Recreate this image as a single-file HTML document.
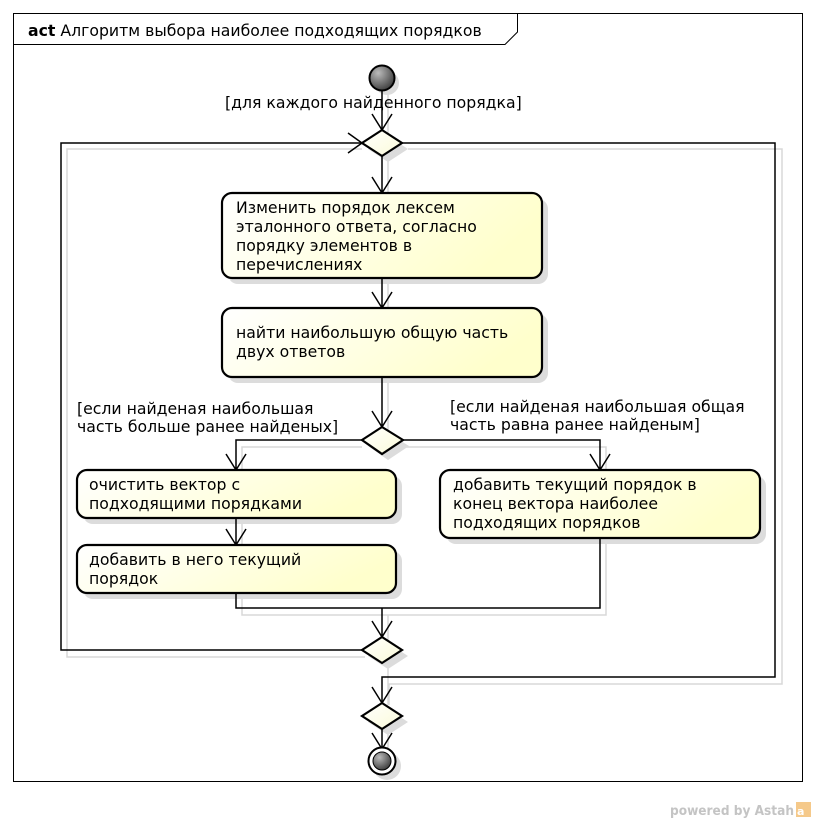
<!DOCTYPE html>
<html><head><meta charset="utf-8"><style>
html,body{margin:0;padding:0;background:#fff}
svg text{font-family:"DejaVu Sans","Liberation Sans",sans-serif;font-size:15.7px;fill:#000}
</style></head><body>
<svg width="816" height="822" viewBox="0 0 816 822" xmlns="http://www.w3.org/2000/svg">
<defs>
<linearGradient id="bx" x1="0" y1="0" x2="1" y2="0.3">
<stop offset="0" stop-color="#ffffff"/><stop offset="1" stop-color="#ffffcc"/></linearGradient>
<linearGradient id="dm" x1="0" y1="0" x2="1" y2="1">
<stop offset="0" stop-color="#ffffff"/><stop offset="1" stop-color="#fbfbd8"/></linearGradient>
<radialGradient id="ball" cx="0.35" cy="0.3" r="0.8">
<stop offset="0" stop-color="#bbbbbb"/><stop offset="1" stop-color="#333333"/></radialGradient>
</defs>
<rect x="13.5" y="13.5" width="789" height="768" fill="none" stroke="#000" stroke-width="1"/>
<path d="M13.5 44.5 H505 L517.5 32 V13.5" fill="none" stroke="#000"/>
<text x="28" y="36"><tspan font-weight="bold">act</tspan> Алгоритм выбора наиболее подходящих порядков</text>

<g stroke="#d8d8d8" fill="none" stroke-width="1.5">
<path d="M388 90 V136"/>
<path d="M408 149 H782 V684 H389 V705"/>
<path d="M362 149 H67 V657 H365"/>
<path d="M388 160 V196 M388 283 V311 M388 383 V430"/>
<path d="M403 447 H606 V473 M362 447 H242 V473"/>
<path d="M242 523 V548 M242 598 V615 H606 V543"/>
<path d="M388 615 V640"/>
<path d="M388 668 V705 M388 733 V748"/>
</g>
<g fill="#dcdcdc">
<rect x="228" y="199" width="320" height="85" rx="10"/>
<rect x="228" y="314" width="320" height="69" rx="10"/>
<rect x="83" y="476" width="319" height="48" rx="10"/>
<rect x="83" y="551" width="319" height="48" rx="10"/>
<rect x="446" y="476" width="320" height="68" rx="10"/>
<path d="M388 136 L408 149 L388 162 L368 149Z"/>
<path d="M388 433 L409 446 L388 460 L368 446Z"/>
<path d="M388 643 L408 656 L388 669 L368 656Z"/>
<path d="M388 709 L408 722 L388 735 L368 722Z"/>
<circle cx="387" cy="83" r="12"/>
<circle cx="387" cy="766" r="14"/>
</g>

<g stroke="#000" fill="none" stroke-width="1.5">
<path d="M382 90 V130"/>
<path d="M372 114 L382 130 L392 114"/>
<path d="M362 143 H61 V650 H362"/>
<path d="M348 133 L362 143 L348 153"/>
<path d="M402 143 H775 V677 H382 V703"/>
<path d="M372 687 L382 703 L392 687"/>
<path d="M382 156 V193 M372 177 L382 193 L392 177"/>
<path d="M382 278 V308 M372 292 L382 308 L392 292"/>
<path d="M382 377 V427 M372 411 L382 427 L392 411"/>
<path d="M362 440 H236 V470 M226 454 L236 470 L246 454"/>
<path d="M403 440 H600 V470 M590 454 L600 470 L610 454"/>
<path d="M236 518 V545 M226 529 L236 545 L246 529"/>
<path d="M236 593 V608 H600 V538"/>
<path d="M382 608 V637 M372 621 L382 637 L392 621"/>
<path d="M382 729 V747 M372 733 L382 749 L392 733"/>
</g>

<g stroke="#000" stroke-width="2.2" fill="url(#bx)">
<rect x="222" y="193" width="320" height="85" rx="10"/>
<rect x="222" y="308" width="320" height="69" rx="10"/>
<rect x="77" y="470" width="319" height="48" rx="10"/>
<rect x="77" y="545" width="319" height="48" rx="10"/>
<rect x="440" y="470" width="320" height="68" rx="10"/>
</g>
<g stroke="#000" stroke-width="2.2" fill="url(#dm)">
<path d="M382 130 L402 143 L382 156 L362 143Z"/>
<path d="M382 427 L403 440 L382 454 L362 440Z"/>
<path d="M382 637 L402 650 L382 663 L362 650Z"/>
<path d="M382 703 L402 716 L382 729 L362 716Z"/>
</g>
<circle cx="382" cy="78" r="12.5" fill="url(#ball)" stroke="#000" stroke-width="2"/>
<circle cx="382" cy="761" r="13.5" fill="#fff" stroke="#000" stroke-width="2"/>
<circle cx="382" cy="761" r="9" fill="url(#ball)" stroke="#000" stroke-width="1"/>

<text x="225" y="108">[для каждого найденного порядка]</text>
<text x="236" y="213">Изменить порядок лексем</text>
<text x="236" y="232">эталонного ответа, согласно</text>
<text x="236" y="251">порядку элементов в</text>
<text x="236" y="270">перечислениях</text>
<text x="236" y="338">найти наибольшую общую часть</text>
<text x="236" y="357">двух ответов</text>
<text x="77" y="414">[если найденая наибольшая</text>
<text x="77" y="432">часть больше ранее найденых]</text>
<text x="450" y="412">[если найденая наибольшая общая</text>
<text x="450" y="430">часть равна ранее найденым]</text>
<text x="89" y="490">очистить вектор с</text>
<text x="89" y="509">подходящими порядками</text>
<text x="89" y="565">добавить в него текущий</text>
<text x="89" y="584">порядок</text>
<text x="453" y="490">добавить текущий порядок в</text>
<text x="453" y="509">конец вектора наиболее</text>
<text x="453" y="528">подходящих порядков</text>

<text x="670" y="815" textLength="124" lengthAdjust="spacingAndGlyphs" style="font-size:13px;font-weight:bold;fill:#c4c4c4">powered by Astah</text>
<rect x="796" y="802" width="15" height="15" fill="#f5c98a"/>
<text x="797" y="815" style="font-size:11px;font-weight:bold;fill:#fff">a</text>
</svg>
</body></html>
